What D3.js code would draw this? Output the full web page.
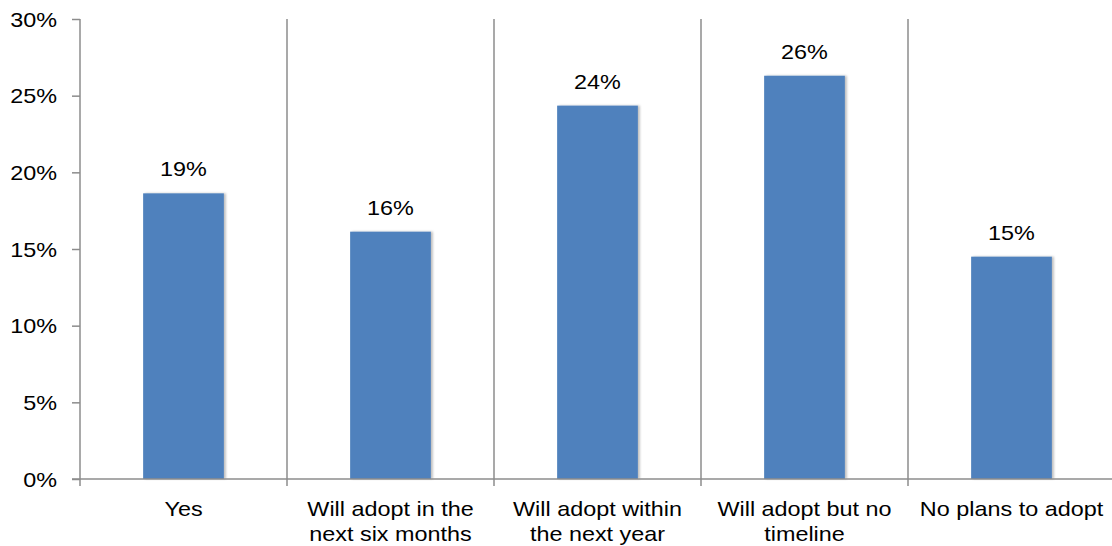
<!DOCTYPE html>
<html>
<head>
<meta charset="utf-8">
<script src="https://cdn.jsdelivr.net/npm/d3@7"></script>
<style>
  html, body { margin: 0; padding: 0; background: #fff; }
  svg { display: block; font-family: "Liberation Sans", Arial, sans-serif; }
</style>
</head>
<body>
<svg id="chart" width="1112" height="546"></svg>
<script>
// Survey responses: share of respondents per adoption stage
const categories = [
  ["Yes"],
  ["Will adopt in the", "next six months"],
  ["Will adopt within", "the next year"],
  ["Will adopt but no", "timeline"],
  ["No plans to adopt"]
];
const values = [18.63, 16.13, 24.35, 26.3, 14.5];
const yTicks = [0, 5, 10, 15, 20, 25, 30];

const svg = d3.select("#chart");
const margin = { left: 80, top: 19 };
const step = 207;
const x0 = margin.left;
const x1 = x0 + step * categories.length;
const yBottom = 479;
const fontSize = 20;
const stretch = 1.17; // text is set slightly wide

const x = d3.scaleBand()
  .domain(d3.range(categories.length))
  .range([x0, x1])
  .paddingInner(0.61)
  .paddingOuter(0.305);

const y = d3.scaleLinear().domain([0, 30]).range([yBottom, margin.top]);

const axisColor = "#8c8c8c";

// soft shadow on the right side of each bar
const defs = svg.append("defs");
const f = defs.append("filter").attr("id", "barShadow")
  .attr("x", "-10%").attr("y", "-10%").attr("width", "130%").attr("height", "120%");
f.append("feDropShadow").attr("dx", 2).attr("dy", 0)
  .attr("stdDeviation", 1.2).attr("flood-color", "#000").attr("flood-opacity", 0.25);

// category separators
const bounds = d3.range(1, categories.length + 1).map(i => x0 + step * i);
svg.append("g").selectAll("line").data(bounds).join("line")
  .attr("x1", d => d).attr("x2", d => d)
  .attr("y1", margin.top).attr("y2", yBottom + 7)
  .attr("stroke", axisColor).attr("stroke-width", 1.5);

// bars
svg.append("g").selectAll("rect").data(values).join("rect")
  .attr("x", (d, i) => x(i))
  .attr("width", x.bandwidth())
  .attr("y", d => y(d))
  .attr("height", d => y(0) - y(d))
  .attr("fill", "#4f81bd")
  .attr("filter", "url(#barShadow)");

// value labels
svg.append("g").selectAll("text").data(values).join("text")
  .attr("transform", (d, i) =>
    `translate(${x(i) + x.bandwidth() / 2},${y(d) - 17}) scale(${stretch},1)`)
  .attr("text-anchor", "middle")
  .attr("font-size", fontSize)
  .attr("fill", "#000")
  .text(d => Math.round(d) + "%");

// y axis
const yAxis = d3.axisLeft(y).tickValues(yTicks).tickFormat(d => d + "%")
  .tickSize(8).tickPadding(0);
const gy = svg.append("g").attr("transform", `translate(${x0},0)`).call(yAxis);
gy.select(".domain").attr("stroke", axisColor).attr("stroke-width", 1.5)
  .attr("d", `M0,${margin.top}V${yBottom}`);
gy.selectAll(".tick line").attr("stroke", axisColor).attr("stroke-width", 1.5);
gy.selectAll(".tick text")
  .attr("x", null).attr("dy", null)
  .attr("transform", `translate(-23,7) scale(${stretch},1)`)
  .attr("font-size", fontSize).attr("fill", "#000")
  .attr("font-family", "Liberation Sans, Arial, sans-serif");

// x axis baseline
svg.append("line")
  .attr("x1", x0 - 8).attr("x2", 1112)
  .attr("y1", yBottom).attr("y2", yBottom)
  .attr("stroke", axisColor).attr("stroke-width", 1.5);
svg.append("line")
  .attr("x1", x0).attr("x2", x0)
  .attr("y1", yBottom).attr("y2", yBottom + 7)
  .attr("stroke", axisColor).attr("stroke-width", 1.5);

// category labels
const cat = svg.append("g").selectAll("text").data(categories).join("text")
  .attr("transform", (d, i) =>
    `translate(${x(i) + x.bandwidth() / 2},516) scale(${stretch},1)`)
  .attr("text-anchor", "middle")
  .attr("font-size", fontSize)
  .attr("fill", "#000");
cat.selectAll("tspan").data(d => d).join("tspan")
  .attr("x", 0)
  .attr("dy", (d, i) => i === 0 ? 0 : 25.5)
  .text(d => d);
</script>
</body>
</html>
